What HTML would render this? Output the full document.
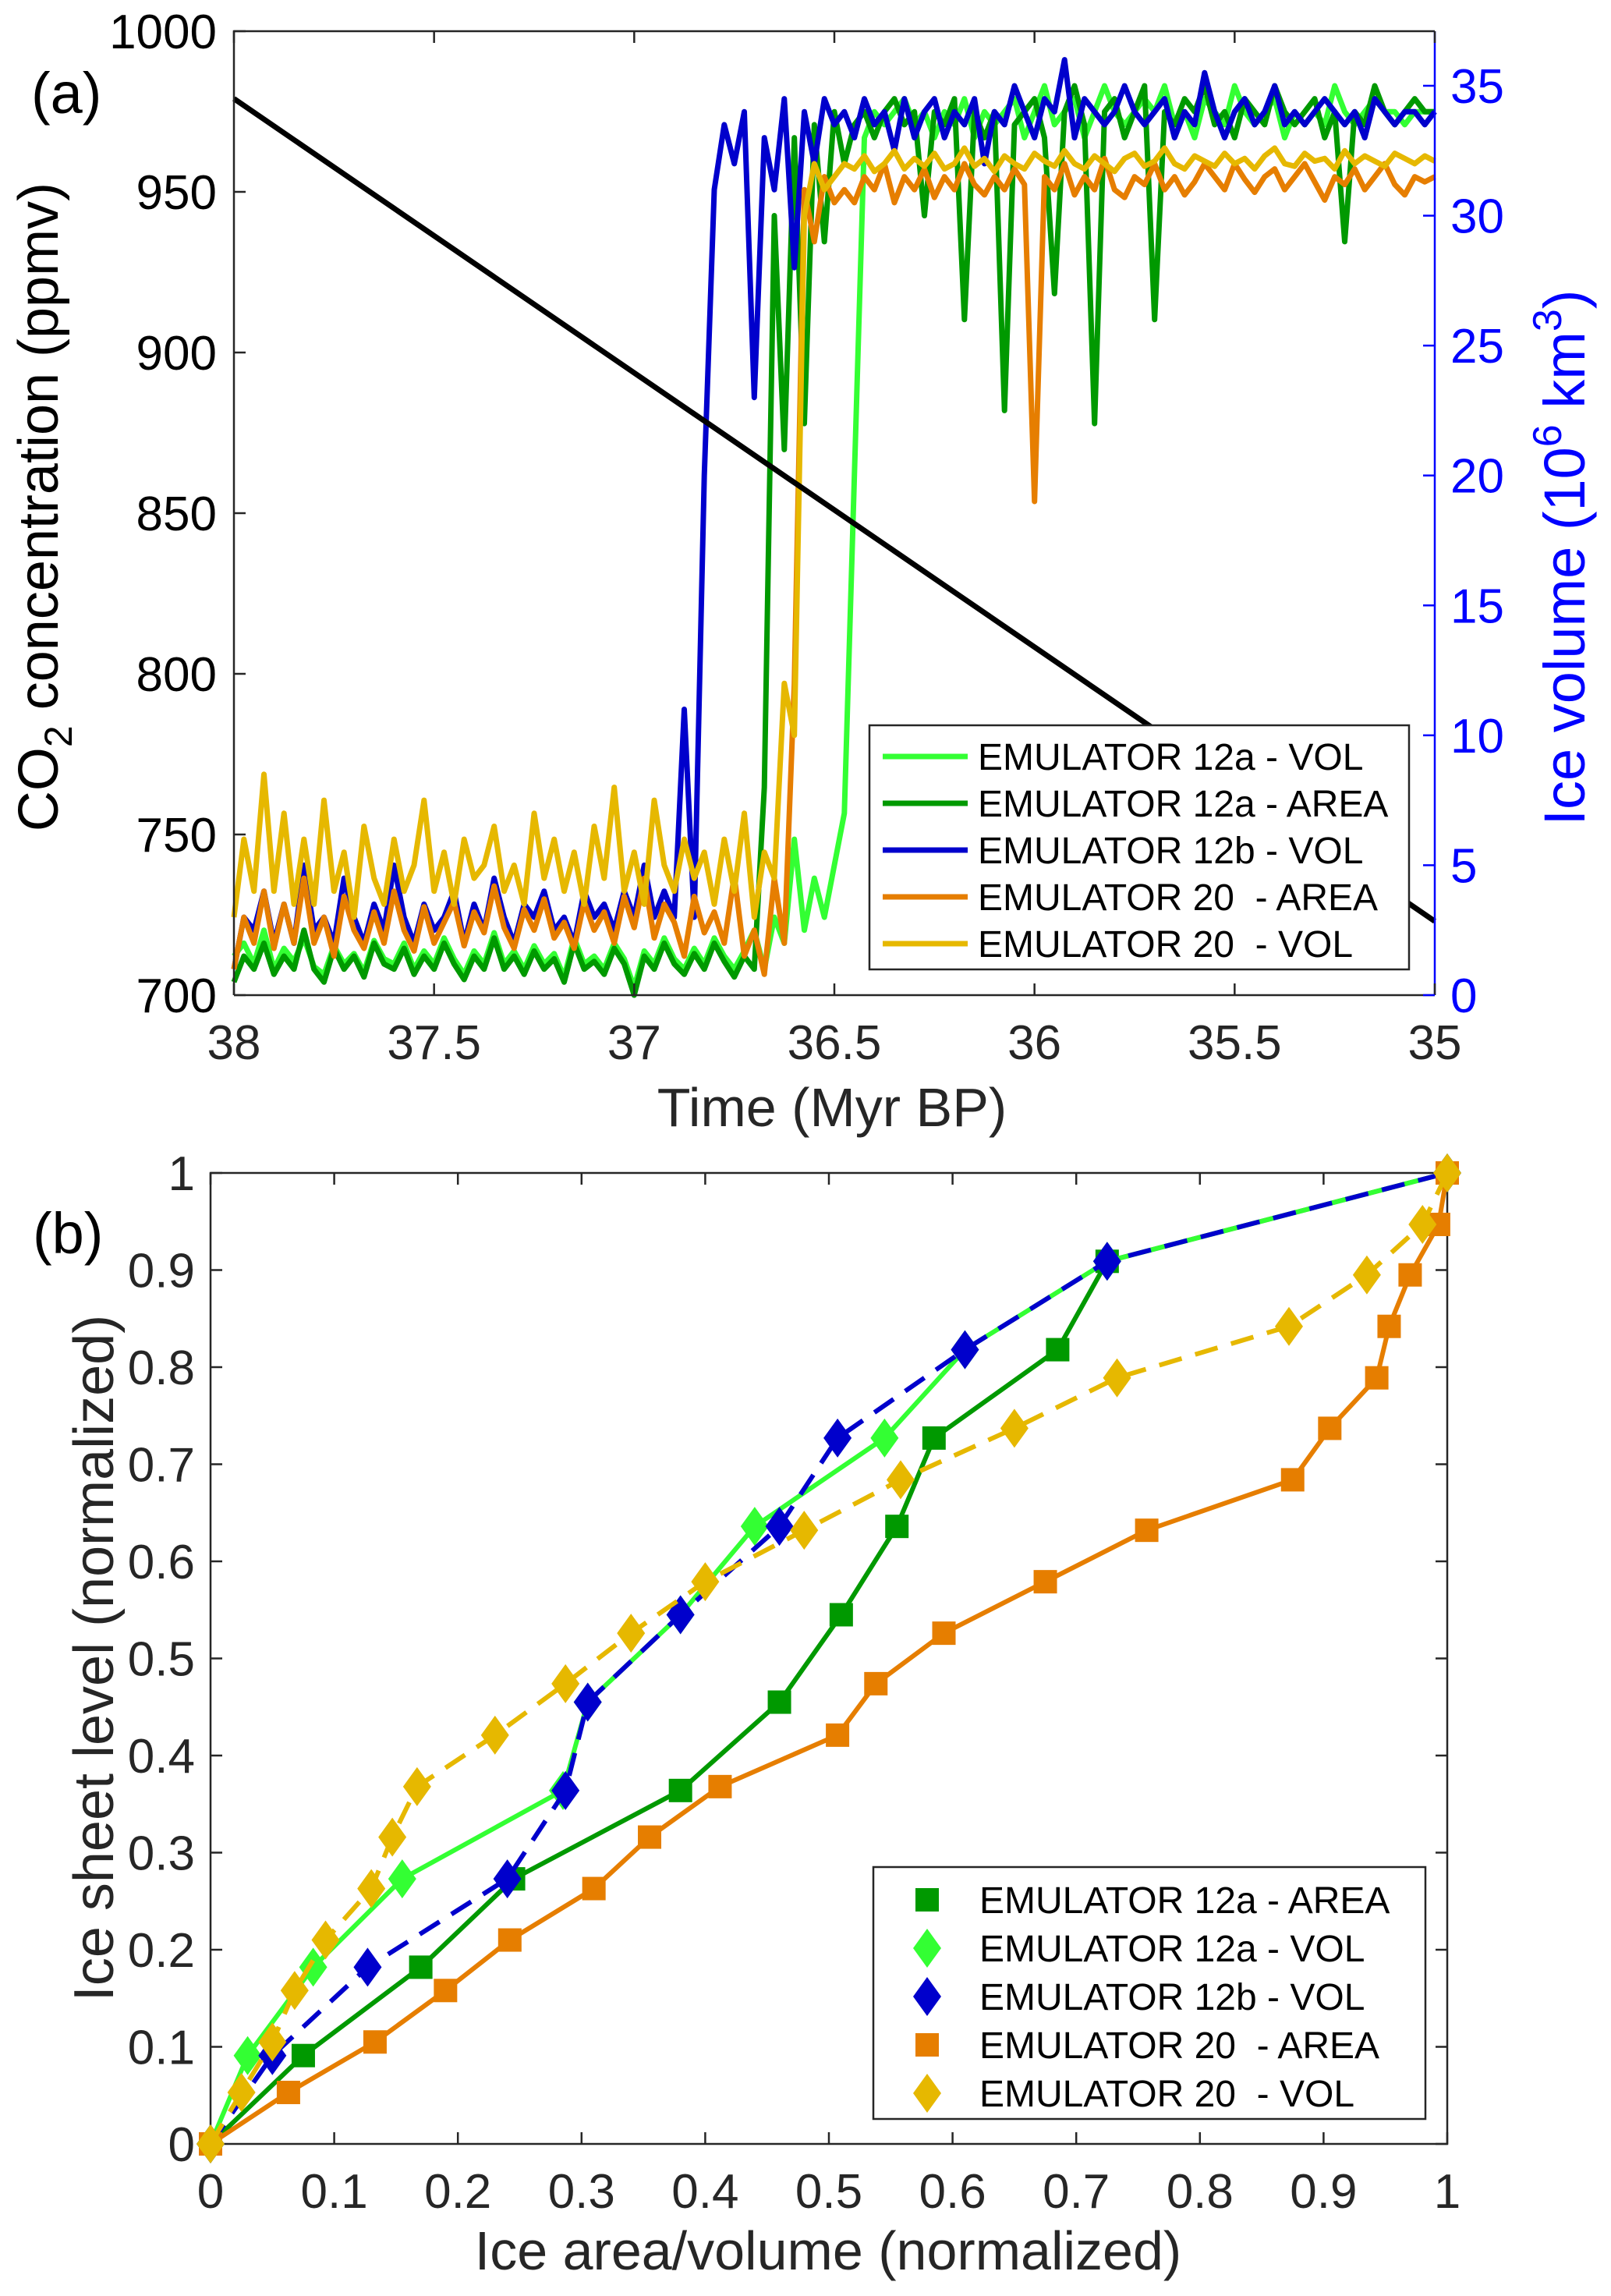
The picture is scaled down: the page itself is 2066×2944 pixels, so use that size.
<!DOCTYPE html>
<html><head><meta charset="utf-8"><style>
html,body{margin:0;padding:0;background:#fff}
svg{display:block}
text{font-family:"Liberation Sans",sans-serif;white-space:pre}
</style></head><body>
<svg id="fig" width="2066" height="2944" viewBox="0 0 2066 2944" xmlns="http://www.w3.org/2000/svg">
<rect width="2066" height="2944" fill="#fff"/>
<g id="pa"></g>
<g id="pb"></g>
</svg>
<script>
// ---------- Panel A data ----------
const co2Times = [38, 35];
const co2Vals = [979, 723];
const xTicksA = [38, 37.5, 37, 36.5, 36, 35.5, 35];
const xTickLabelsA = ["38","37.5","37","36.5","36","35.5","35"];
const yTicksA = [700,750,800,850,900,950,1000];
const yTicksRight = [0,5,10,15,20,25,30,35];
const vol12a = [1.5,2,1.2,2.5,1,1.8,1.3,2.2,1.1,0.8,1.9,1.2,1.6,0.9,2.1,1.4,1.2,2,1,1.7,1.2,2.2,1.4,0.8,1.7,1.2,2.4,1.2,1.7,1,1.9,1.2,1.6,0.7,2.2,1.2,1.5,1,2,1.4,0.3,1.7,1.2,2.2,1.4,1,1.8,1.2,2.2,1.5,1,1.7,2.5,1,3,2,6,2.5,4.5,3,5,7,20,33,34,33.5,34,34.5,33.5,34,33,34,33.5,34.5,33,34,33.5,34,34.5,33,34,35,33.5,34,34.5,33,34,35,34,33.5,34,34.5,34,35,33.5,34,33,34.5,34,33.5,35,34,33.5,34,34.5,33,34,33.5,34,33.5,35,34,33.5,34,34.5,34,34,33.5,34,34,34];
const area12a = [0.5,1.5,1,2,0.8,1.5,1,2.5,1,0.5,1.8,1,1.5,0.7,2,1.2,1,1.8,0.8,1.5,1,2,1.2,0.6,1.5,1,2.2,1,1.5,0.8,1.7,1,1.4,0.5,2,1,1.3,0.8,1.8,1.2,0,1.5,1,2,1.2,0.8,1.6,1,2,1.3,0.7,1.5,1,8,30,21,33,22,33.5,29,34,32,33.5,34,33,34,34.5,33.5,34,30,34,33.5,34.5,26,34,33,34,22.5,33.5,34,34.5,33,27,34,35,33.5,22,34,34.5,33,34,35,26,34,33.5,34.5,34,35,33.5,34,33,34.5,34,33.5,35,34,33.5,34,34.5,33,34,29,34,33.5,35,34,33.5,34,34.5,34,34];
const vol12b = [1,3,2.5,4,2,3.5,2,5,2.5,3,2,4.5,3,2,3.5,2.5,5,3,2,3.5,2.5,3,4,2,3.5,2.5,4.5,3,2,3.5,3,4,2.5,3,2,4,3,3.5,2.5,4,3,5,3,4,3,11,3,20,31,33.5,32,34,23,33,31,34.5,28,34,32,34.5,33.5,34,33,34.5,33.5,34,32.5,34.5,33,34,34.5,33,34,33.5,34.5,32,34,33.5,35,34,33,34.5,34,36,33,34.5,34,33.5,34,35,34,33.5,34,34.5,33,34,33.5,35.5,34,33,34,34.5,33.5,34,35,33.5,34,33.5,34,34.5,34,33.5,34,33,34.5,34,33.5,34,34,33.5,34];
const area20 = [1,3,2,4,1.8,3.5,2,4.5,2,3,1.5,3.8,2.5,1.8,3.2,2,4,2.5,1.7,3.4,2,2.8,3.6,1.9,3.2,2.4,4.2,2.6,1.8,3.3,2.5,3.7,2.2,2.8,1.8,3.6,2.5,3.2,2,3.8,2.6,4.5,2.2,3.5,2.8,1.5,3.8,2.4,3.2,2,4.6,1.5,2.5,0.8,4.5,2,12,31,29,31.5,30.5,31,30.5,31.5,31,32,30.5,31.5,31,31.8,30.7,31.5,31,32,31.2,30.8,31.5,31,31.8,31.2,19,31.5,31,32,30.8,31.5,31,32.2,31,30.7,31.5,31.2,32,31,31.5,30.8,31.3,32,31.5,31,32,31.4,30.9,31.5,31.8,31,31.5,32,31.3,30.6,31.5,31.2,31.8,31,31.5,32,31.2,30.8,31.5,31.3,31.5];
const vol20 = [3,6,4,8.5,4,7,3.5,6,3.5,7.5,4,5.5,3,6.5,4.5,3.5,6,4,5,7.5,4,5.5,3.5,6,4.5,5,6.5,4,5,3.5,7,4.5,6,4,5.5,3.5,6.5,4.5,8,4,5.5,3.5,7.5,5,4,6,4.5,5.5,3.5,6,4,7,3,5.5,4.5,12,10,30,32,31,31.5,32,31.8,32.3,31.7,32,32.5,31.8,32.2,31.9,32.4,31.8,32,32.6,31.9,32.2,31.7,32.3,32,31.8,32.4,32.1,31.9,32.5,32,31.8,32.3,32,31.7,32.2,32.4,31.9,32.1,32.6,32,31.8,32.3,32.1,31.9,32.4,32,32.2,31.8,32.3,32.6,32,31.9,32.4,32.1,32.2,31.8,32.5,32,32.3,32.1,31.9,32.4,32.2,32,32.3,32.1];
const seriesNamesA = ["EMULATOR 12a - VOL","EMULATOR 12a - AREA","EMULATOR 12b - VOL","EMULATOR 20  - AREA","EMULATOR 20  - VOL"];

// ---------- Panel B data ----------
const b12aAreaX = [0,0.075,0.17,0.245,0.38,0.46,0.51,0.555,0.585,0.685,0.725,1];
const b12aAreaY = [0,0.091,0.182,0.273,0.364,0.455,0.545,0.636,0.727,0.818,0.909,1];
const b12aVolX = [0,0.03,0.083,0.155,0.285,0.305,0.38,0.44,0.545,0.61,0.725,1];
const b12aVolY = [0,0.091,0.182,0.273,0.364,0.455,0.545,0.636,0.727,0.818,0.909,1];
const b12bVolX = [0,0.05,0.127,0.24,0.287,0.305,0.38,0.46,0.507,0.61,0.725,1];
const b12bVolY = [0,0.091,0.182,0.273,0.364,0.455,0.545,0.636,0.727,0.818,0.909,1];
const b20AreaX = [0,0.063,0.133,0.19,0.242,0.31,0.355,0.412,0.507,0.538,0.593,0.675,0.757,0.875,0.905,0.943,0.953,0.97,0.993,1];
const b20AreaY = [0,0.053,0.105,0.158,0.21,0.263,0.316,0.368,0.421,0.474,0.526,0.579,0.632,0.684,0.737,0.789,0.842,0.895,0.947,1];
const b20VolX = [0,0.025,0.05,0.068,0.093,0.13,0.147,0.167,0.23,0.287,0.34,0.4,0.48,0.558,0.65,0.733,0.872,0.935,0.98,1];
const b20VolY = [0,0.053,0.105,0.158,0.21,0.263,0.316,0.368,0.421,0.474,0.526,0.579,0.632,0.684,0.737,0.789,0.842,0.895,0.947,1];
const ticksB = [0,0.1,0.2,0.3,0.4,0.5,0.6,0.7,0.8,0.9,1];
const tickLabelsB = ["0","0.1","0.2","0.3","0.4","0.5","0.6","0.7","0.8","0.9","1"];
const seriesNamesB = ["EMULATOR 12a - AREA","EMULATOR 12a - VOL","EMULATOR 12b - VOL","EMULATOR 20  - AREA","EMULATOR 20  - VOL"];

const NS = "http://www.w3.org/2000/svg";
function mk(parent, tag, attrs, txt){
  const e = document.createElementNS(NS, tag);
  for (const k in attrs) e.setAttribute(k, attrs[k]);
  if (txt !== undefined) e.textContent = txt;
  parent.appendChild(e);
  return e;
}
const C = {lg:"#33ff33", dg:"#009900", bl:"#0000cc", or:"#e67e00", ye:"#e6b800"};

// ---------- Panel A ----------
const pa = document.getElementById("pa");
const A = {l:300, r:1840, t:40, b:1276};
const xA = t => A.l + (38 - t) / 3 * (A.r - A.l);
const yA = v => A.b - (v - 700) / 300 * (A.b - A.t);
const yR = v => A.b - v / 37.1 * (A.b - A.t);

let e;
e = mk(pa, "rect", {x:A.l, y:A.t, width:A.r-A.l, height:A.b-A.t, fill:"#fff"});



function seriesPath(vals, color, name){
  const n = vals.length;
  let d = "";
  vals.forEach((v,i)=>{ const t = 38 - 3*i/(n-1); d += (i?"L":"M") + xA(t).toFixed(1) + " " + yR(v).toFixed(1); });
  const p = mk(pa, "path", {d:d, fill:"none", stroke:color, "stroke-width":7, "stroke-linejoin":"round"});
  
  
}
seriesPath(vol12a, C.lg, "series-12a-vol");
seriesPath(area12a, C.dg, "series-12a-area");
seriesPath(vol12b, C.bl, "series-12b-vol");
seriesPath(area20, C.or, "series-20-area");
seriesPath(vol20, C.ye, "series-20-vol");
e = mk(pa, "line", {x1:xA(co2Times[0]), y1:yA(co2Vals[0]), x2:xA(co2Times[1]), y2:yA(co2Vals[1]), stroke:"#000", "stroke-width":7});



e = mk(pa, "path", {d:`M${A.l} ${A.b}V${A.t}H${A.r}M${A.l} ${A.b}H${A.r}`, fill:"none", stroke:"#262626", "stroke-width":2.5});


e = mk(pa, "line", {x1:A.r, y1:A.t, x2:A.r, y2:A.b, stroke:"#0000ff", "stroke-width":2.5});



xTicksA.forEach((t,i)=>{
  const x = xA(t);
  mk(pa, "line", {x1:x, y1:A.b, x2:x, y2:A.b-15, stroke:"#262626", "stroke-width":2.5});
  mk(pa, "line", {x1:x, y1:A.t, x2:x, y2:A.t+15, stroke:"#262626", "stroke-width":2.5});
  e = mk(pa, "text", {x:x, y:A.b+82, "font-size":62, "text-anchor":"middle", fill:"#262626"}, xTickLabelsA[i]);
  
  
});
yTicksA.forEach(v=>{
  const y = yA(v);
  mk(pa, "line", {x1:A.l, y1:y, x2:A.l+15, y2:y, stroke:"#262626", "stroke-width":2.5});
  e = mk(pa, "text", {x:A.l-22, y:y+22, "font-size":62, "text-anchor":"end", fill:"#000"}, String(v));
  
  
});
yTicksRight.forEach(v=>{
  const y = yR(v);
  mk(pa, "line", {x1:A.r, y1:y, x2:A.r-15, y2:y, stroke:"#0000ff", "stroke-width":2.5});
  e = mk(pa, "text", {x:A.r+20, y:y+22, "font-size":62, "text-anchor":"start", fill:"#0000ff"}, String(v));
  
  
});
e = mk(pa, "text", {x:1067, y:1444, "font-size":70, "text-anchor":"middle", fill:"#262626"}, "Time (Myr BP)");


e = mk(pa, "text", {transform:"translate(74 650) rotate(-90)", "font-size":72, "text-anchor":"middle", fill:"#000"});


mk(e, "tspan", {}, "CO");
mk(e, "tspan", {"font-size":50, dy:18}, "2");
mk(e, "tspan", {dy:-18}, " concentration (ppmv)");
e = mk(pa, "text", {transform:"translate(2032 715) rotate(-90)", "font-size":74, "text-anchor":"middle", fill:"#0000ff"});


mk(e, "tspan", {}, "Ice volume (10");
mk(e, "tspan", {"font-size":52, dy:-30}, "6");
mk(e, "tspan", {dy:30}, " km");
mk(e, "tspan", {"font-size":52, dy:-30}, "3");
mk(e, "tspan", {dy:30}, ")");
e = mk(pa, "text", {x:40, y:145, "font-size":74, fill:"#000"}, "(a)");



const legA = mk(pa, "g", {});


mk(legA, "rect", {x:1115, y:930, width:692, height:313, fill:"#fff", stroke:"#262626", "stroke-width":2.5});
const legColsA = [C.lg, C.dg, C.bl, C.or, C.ye];
seriesNamesA.forEach((nm,i)=>{
  const y = 970 + i*60;
  const g = mk(legA, "g", {});
  
  
  mk(g, "line", {x1:1132, y1:y, x2:1241, y2:y, stroke:legColsA[i], "stroke-width":7});
  mk(g, "text", {x:1254, y:y+17, "font-size":48, fill:"#000"}, nm);
});

// ---------- Panel B ----------
const pb = document.getElementById("pb");
const B = {l:270, r:1856, t:1504, b:2749};
const xB = v => B.l + v * (B.r - B.l);
const yB = v => B.b - v * (B.b - B.t);

e = mk(pb, "rect", {x:B.l, y:B.t, width:B.r-B.l, height:B.b-B.t, fill:"#fff", stroke:"#262626", "stroke-width":2.5});


ticksB.forEach((v,i)=>{
  const x = xB(v), y = yB(v);
  mk(pb, "line", {x1:x, y1:B.b, x2:x, y2:B.b-15, stroke:"#262626", "stroke-width":2.5});
  mk(pb, "line", {x1:x, y1:B.t, x2:x, y2:B.t+15, stroke:"#262626", "stroke-width":2.5});
  mk(pb, "line", {x1:B.l, y1:y, x2:B.l+15, y2:y, stroke:"#262626", "stroke-width":2.5});
  mk(pb, "line", {x1:B.r, y1:y, x2:B.r-15, y2:y, stroke:"#262626", "stroke-width":2.5});
  e = mk(pb, "text", {x:x, y:B.b+82, "font-size":62, "text-anchor":"middle", fill:"#262626"}, tickLabelsB[i]);
  
  
  e = mk(pb, "text", {x:B.l-20, y:y+22, "font-size":62, "text-anchor":"end", fill:"#262626"}, tickLabelsB[i]);
  
  
});

function marker(g, type, x, y, color){
  if (type === "sq") mk(g, "rect", {x:x-15, y:y-15, width:30, height:30, fill:color});
  else mk(g, "path", {d:`M${x} ${y-25}L${x+18} ${y}L${x} ${y+25}L${x-18} ${y}Z`, fill:color});
}
function seriesB(xs, ys, color, dash, type, name){
  const g = mk(pb, "g", {});
  
  
  let d = "";
  xs.forEach((v,i)=>{ d += (i?"L":"M") + xB(v).toFixed(1) + " " + yB(ys[i]).toFixed(1); });
  const a = {d:d, fill:"none", stroke:color, "stroke-width":6, "stroke-linejoin":"round"};
  if (dash) a["stroke-dasharray"] = "30 18";
  mk(g, "path", a);
  xs.forEach((v,i)=> marker(g, type, xB(v), yB(ys[i]), color));
}
seriesB(b12aAreaX, b12aAreaY, C.dg, false, "sq", "series-b-12a-area");
seriesB(b12aVolX, b12aVolY, C.lg, false, "di", "series-b-12a-vol");
seriesB(b12bVolX, b12bVolY, C.bl, true, "di", "series-b-12b-vol");
seriesB(b20AreaX, b20AreaY, C.or, false, "sq", "series-b-20-area");
seriesB(b20VolX, b20VolY, C.ye, true, "di", "series-b-20-vol");

e = mk(pb, "text", {x:1062, y:2910, "font-size":70, "text-anchor":"middle", fill:"#262626"}, "Ice area/volume (normalized)");


e = mk(pb, "text", {transform:"translate(145 2126) rotate(-90)", "font-size":72, "text-anchor":"middle", fill:"#262626"}, "Ice sheet level (normalized)");


e = mk(pb, "text", {x:42, y:1607, "font-size":74, fill:"#000"}, "(b)");



const legB = mk(pb, "g", {});


mk(legB, "rect", {x:1120, y:2394, width:708, height:323, fill:"#fff", stroke:"#262626", "stroke-width":2.5});
const legColsB = [C.dg, C.lg, C.bl, C.or, C.ye];
const legTypesB = ["sq","di","di","sq","di"];
seriesNamesB.forEach((nm,i)=>{
  const y = 2436 + i*62;
  const g = mk(legB, "g", {});
  
  
  marker(g, legTypesB[i], 1189, y, legColsB[i]);
  mk(g, "text", {x:1256, y:y+17, "font-size":48, fill:"#000"}, nm);
});
</script>
</body></html>
